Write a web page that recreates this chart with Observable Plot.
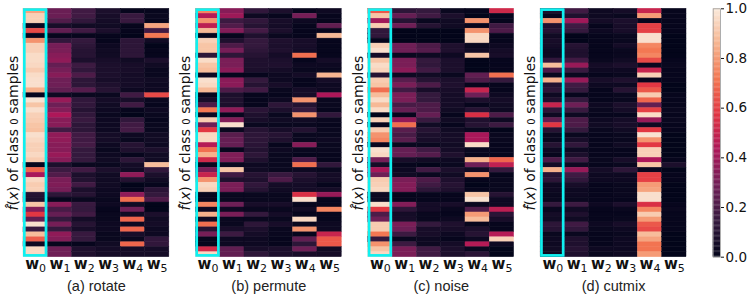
<!DOCTYPE html>
<html><head><meta charset="utf-8">
<script src="https://cdn.jsdelivr.net/npm/d3@7"></script>
<script src="https://cdn.jsdelivr.net/npm/@observablehq/plot@0.6"></script>
<style>
html,body{margin:0;padding:0;background:#fff}
#chart{display:flex;width:747px;height:301px}
svg{display:block;flex:none}
</style></head><body><div id="chart"></div>
<script>
const panels = ["rotate","permute","noise","cutmix"];
const captions = ["(a) rotate","(b) permute","(c) noise","(d) cutmix"];
const columns = ["w0","w1","w2","w3","w4","w5"];
const colorStops = [0,1/7,2/7,3/7,4/7,5/7,6/7,1];
const colorRange = ["#03051a","#35193e","#701f57","#ad1759","#e13342","#f37651","#f6b48f","#faebdd"];
const barTicks = [0,.2,.4,.6,.8,1];

const rotateW0 = [.82,.93,.93,.02,.62,.01,.78,.93,.93,.96,.96,.95,.92,.96,.97,.97,.85,.01,.98,.9,.97,.93,.92,.9,.89,.97,.95,.93,.93,.95,.92,.01,.68,.42,.95,.92,.93,.1,.08,.9,.33,.58,.25,.97,.15,.88,.66,.03,.95,.95];
const rotateW1 = [.27,.27,.21,.06,.25,.01,.13,.3,.31,.34,.36,.26,.3,.34,.28,.28,.25,.03,.38,.28,.33,.43,.34,.34,.17,.36,.36,.34,.34,.38,.34,.07,.16,.21,.31,.32,.3,.12,.01,.34,.19,.26,.14,.3,.14,.36,.33,.01,.28,.28];
const rotateW2 = [.17,.17,.13,.04,.17,.01,.14,.12,.1,.1,.07,.16,.13,.2,.12,.12,.22,.02,.13,.13,.1,.13,.15,.12,.12,.17,.17,.18,.14,.14,.14,.02,.17,.07,.09,.17,.07,.1,.02,.15,.14,.17,.05,.1,.06,.15,.14,.01,.08,.08];
const rotateW3 = [.07,.06,.05,.04,.07,.01,.01,.03,.04,.04,.06,.07,.07,.07,.06,.08,.1,.02,.05,.04,.03,.02,.03,.03,.03,.05,.05,.03,.02,.03,.04,.02,.07,.04,.04,.04,.03,.03,.02,.03,.01,.02,.02,.03,.03,.02,.02,.04,.05,.05];
const rotateW4 = [.01,.15,.15,.01,.01,0,.12,.12,.12,.12,.04,.06,.06,.05,.05,.05,.03,.17,.06,.17,.01,0,.13,.17,.18,.03,.02,.1,.08,.01,.12,.05,.04,.36,.09,0,.01,.36,.7,.04,.28,.04,.68,.03,.68,.06,.02,.68,.05,.05];
const rotateW5 = [.01,.02,.01,.82,.17,.72,.04,0,.01,.01,.07,.04,.02,.02,.04,.03,.03,.62,.02,.01,.03,.02,.01,.02,.02,.04,.04,.03,.07,.04,.04,.88,.13,.07,.04,.01,.11,.14,.2,0,0,.07,.04,.05,.03,.03,.13,.13,.05,.05];

const permuteW0 = [.75,.45,.78,.47,.87,.01,.93,.9,.9,.12,.96,.9,.88,.03,.97,.95,.87,.01,.06,.2,.72,.03,.92,.28,.58,.95,.95,.45,.7,.85,.52,.02,.3,.5,.78,.95,.93,.01,.01,.75,.03,.85,.04,.7,.1,.3,.01,.01,.53,.95];
const permuteW1 = [.34,.39,.16,.21,.33,.01,.08,.2,.3,.12,.31,.31,.35,.01,.35,.35,.2,.07,.08,.07,.36,.01,.33,.97,.02,.23,.26,.26,.01,.32,.32,.02,.9,.17,.08,.31,.31,.02,.02,.28,.03,.31,.02,.02,.06,.16,.03,.03,.25,.25];
const permuteW2 = [.13,.03,.13,.1,.18,.08,.14,.14,.12,.1,.08,.08,.07,.01,.14,.1,.17,.01,.01,.01,.11,.08,.06,.02,.1,.12,.12,.11,.09,.12,.08,.03,.04,.1,.08,.13,.1,.02,.02,.06,.02,.14,.02,.12,.07,.05,.03,.03,.06,.12];
const permuteW3 = [.07,.01,.06,.05,.07,.02,.08,.07,.08,.05,.07,.08,.05,.03,.03,.06,.02,.01,.03,.12,.07,.02,.04,.02,.06,.1,.08,.01,.03,.02,.02,.02,.02,.15,.2,.05,.04,.02,.02,.06,.02,.05,.02,.06,.02,.02,.01,.01,.07,.07];
const permuteW4 = [.01,.3,.03,.01,.01,.01,.06,.06,.05,.7,.01,.03,.02,.05,.01,.01,.05,.05,.78,.09,.14,.78,.04,.02,.09,.02,.02,.34,.02,.01,.2,.7,.03,.1,.07,.05,.05,.55,.97,.01,.04,.01,.95,.02,.78,.01,.25,.12,.28,.06];
const permuteW5 = [.03,.01,.01,.25,.01,.87,.01,.01,.01,.01,.05,.03,.02,.86,.05,.03,.03,.43,.02,.02,.01,.13,.02,.01,.02,.02,.03,.02,.02,.01,.01,.13,.02,.05,.05,.01,.05,.38,.01,.01,.75,.01,.01,.03,.03,.5,.65,.65,.04,.05];

const noiseW0 = [.65,.9,.4,.92,.13,.13,.01,.93,.97,.05,.9,.96,.94,.1,.92,.9,.7,.88,.96,.87,.96,0,.93,.01,.92,.78,.75,.02,.97,.95,.3,.05,.42,.28,.92,.93,.95,.03,.03,.97,.58,.2,.28,.92,.92,.72,.14,.78,.9,.95];
const noiseW1 = [.12,.26,.1,.28,0,0,0,.28,.28,.02,.31,.31,.35,.03,.23,.31,.17,.31,.31,.19,.26,.01,.37,.7,.23,.19,.23,.02,.26,.26,.06,.01,.03,.04,.31,.33,.33,.01,.01,.33,.12,.05,.06,.31,.28,.16,.02,.16,.31,.31];
const noiseW2 = [.14,.17,.02,.1,0,0,0,.2,.22,.03,.14,.13,.17,.04,.1,.2,.06,.14,.14,.2,.2,.26,.15,.04,.1,.07,.06,.02,.17,.22,.04,0,.17,.02,.2,.17,.12,.01,.01,.05,.05,.02,.02,.14,.06,.06,.03,.03,.17,.17];
const noiseW3 = [.02,.07,.04,.04,0,0,0,.08,.08,.03,.07,.07,.07,.02,.07,.08,.06,.05,.05,.05,.04,.01,.04,.01,.04,.05,.05,.04,.05,.08,.03,.02,.07,.04,.08,.1,.08,.01,.01,.06,.02,.01,.03,.08,.06,.03,.01,.05,.07,.07];
const noiseW4 = [.01,0,.78,.01,.78,.95,.95,.02,.04,.9,0,0,0,.25,.2,.01,.5,.28,.07,.01,.1,.55,.08,.1,.02,.42,.42,.96,.02,.01,.85,.28,.04,.78,.01,0,.01,.9,.98,.02,.2,.8,.88,.01,.07,.1,.03,.45,.02,.11];
const noiseW5 = [.52,.01,.01,.17,.2,.01,.01,.03,.05,.06,.01,.01,.01,.7,.14,.01,.01,.03,.05,.04,.03,.2,.03,.16,0,.02,.02,.01,.01,.01,.68,.48,.14,.01,.02,.02,.02,.1,.03,.03,.47,.11,.06,.01,.01,.45,.93,.03,0,0];

const cutmixW0 = [.07,.01,.78,.08,.1,.04,.06,.05,.03,.03,.13,.88,.2,.02,.85,.09,.12,.03,.08,.5,.12,.03,.25,.58,.1,.02,.02,.1,.03,.01,.2,.05,.85,.1,.12,.03,.03,.02,.02,.14,.02,.05,.04,.12,.1,.02,.03,.03,.04,.03];
const cutmixW1 = [.17,.08,.4,.17,.14,0,0,.1,.08,.08,.17,.38,.15,.02,.38,.17,.14,.01,.14,.28,.15,.03,.2,.2,.14,.02,.06,.13,.03,.07,.17,.03,.38,.17,.13,.06,.03,.03,.02,.16,.04,.08,.04,.17,.13,.02,.08,.08,.1,.08];
const cutmixW2 = [.03,.03,.05,.01,.03,.01,.01,.01,.01,.01,.02,.05,.03,.01,.06,.03,.01,.01,.01,.03,.02,.01,.03,.04,.02,.01,.01,.01,.01,.01,.02,.01,.05,.03,.03,.01,.01,.01,.01,.03,.01,.01,.01,.03,.02,.01,.01,.01,.03,.02];
const cutmixW3 = [.05,.02,.07,.06,.06,.02,.02,.05,.02,.02,.04,.07,.03,.02,.08,.03,.1,.02,.02,.07,.05,.01,.05,.06,.04,.02,.02,.04,.01,.01,.06,.02,.12,.03,.03,.02,.02,.02,.01,.07,.02,.01,.02,.06,.03,.02,.03,.03,.03,.03];
const cutmixW4 = [.5,.8,.01,.6,.6,.97,.97,.75,.72,.75,.62,.02,.5,.93,.01,.58,.65,.92,.68,.25,.6,.96,.38,.03,.58,.98,.78,.58,.93,.93,.43,.9,.02,.6,.6,.8,.82,.97,.97,.55,.75,.92,.8,.65,.62,.88,.82,.71,.71,.8];
const cutmixW5 = [.01,.01,.01,.01,.01,0,0,0,0,0,.01,.02,.01,.01,.01,0,0,.01,.01,.01,.02,.01,.02,.01,.01,0,0,0,0,0,.01,.07,0,.01,.01,0,0,0,0,.01,.02,.01,.01,.01,.01,0,0,0,0,0];

const series = {
  rotate:[rotateW0,rotateW1,rotateW2,rotateW3,rotateW4,rotateW5],
  permute:[permuteW0,permuteW1,permuteW2,permuteW3,permuteW4,permuteW5],
  noise:[noiseW0,noiseW1,noiseW2,noiseW3,noiseW4,noiseW5],
  cutmix:[cutmixW0,cutmixW1,cutmixW2,cutmixW3,cutmixW4,cutmixW5]
};
const cells = panels.flatMap(p => series[p].flatMap((vals,c) => vals.map((v,r) => ({panel:p,col:columns[c],row:r,value:v}))));
const colorScale = {type:"linear",domain:colorStops,range:colorRange,clamp:true};

const main = Plot.plot({
  width:700,height:301,
  marginLeft:23,marginRight:14,marginTop:8.3,marginBottom:44.3,
  style:{fontFamily:"'DejaVu Sans'",background:"#fff",overflow:"visible"},
  fx:{domain:panels,paddingInner:.154,paddingOuter:0,axis:null,round:false,label:null},
  x:{domain:columns,padding:0,axis:null,round:false,label:null},
  y:{domain:d3.range(50),padding:0,axis:null,round:false,label:null},
  color:colorScale,
  marks:[
    Plot.cell(cells,{fx:"panel",x:"col",y:"row",fill:"value",stroke:"value",strokeWidth:.45}),
    Plot.cell(panels,{fx:d=>d,x:()=>"w0",fill:"none",stroke:"#10f0f0",strokeWidth:2.7,inset:1.3}),
    Plot.text(columns,{x:d=>d,text:d=>d,frameAnchor:"bottom",dy:12,fontSize:15,fill:"#111",className:"wtick"}),
    Plot.text(panels,{fx:d=>d,text:d=>captions[panels.indexOf(d)],frameAnchor:"bottom",dy:33.5,fontSize:14.5,fontFamily:"'Liberation Sans'",fill:"#222"}),
    Plot.text(panels,{fx:d=>d,text:()=>"f(x) of class 0 samples",frameAnchor:"left",dx:-10,rotate:-90,textAnchor:"middle",fontSize:14,fill:"#111",className:"ylab"})
  ]
});

main.querySelectorAll(".wtick text").forEach(t => {
  const s = t.textContent;
  t.innerHTML = `<tspan font-weight="bold">${s[0]}</tspan><tspan dy="3" font-size="11">${s[1]}</tspan>`;
});
main.querySelectorAll(".ylab text").forEach(t => {
  t.innerHTML = `<tspan font-style="italic">f\u0302</tspan>(<tspan font-style="italic">x</tspan>) of class <tspan font-size="10">0</tspan> samples`;
});

const bar = Plot.plot({
  width:47,height:301,
  marginLeft:12.7,marginRight:27,marginTop:8.3,marginBottom:44.3,
  style:{fontFamily:"'DejaVu Sans'",fontSize:"13.5px",background:"#fff",overflow:"visible",color:"#111"},
  x:{axis:null,domain:[0,1]},
  y:{domain:[0,1],ticks:barTicks,tickFormat:".1f",axis:"right",label:null,tickSize:3,tickPadding:2},
  color:colorScale,
  marks:[
    Plot.rect(d3.range(0,1,1/200),{x1:0,x2:1,y1:d=>d,y2:d=>d+1/200+.001,fill:d=>d}),
    Plot.frame({stroke:"#999",strokeWidth:.8})
  ]
});

const chart = document.getElementById("chart");
chart.append(main,bar);
</script></body></html>
